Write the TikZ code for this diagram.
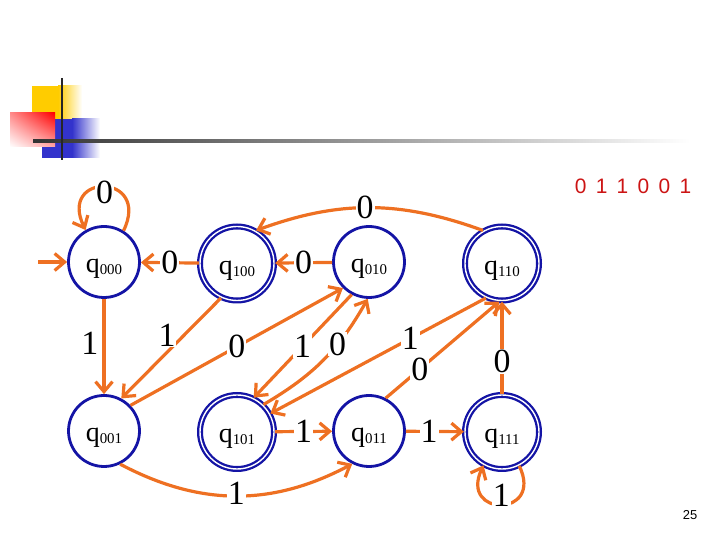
\documentclass[tikz,border=0pt]{standalone}
\usepackage{fontspec}
\setmainfont{Liberation Serif}
\setsansfont{Liberation Sans}
\usetikzlibrary{arrows.meta,shadings}
\definecolor{edgeorange}{RGB}{238,112,34}
\definecolor{stateblue}{RGB}{20,20,165}
\definecolor{logoyellow}{RGB}{255,204,0}
\definecolor{logoblue}{RGB}{51,51,204}
\definecolor{seqred}{RGB}{204,20,20}
\newcommand{\qname}[1]{q\raisebox{-2bp}{\fontsize{15}{15}\selectfont #1}}
\tikzset{
  state/.style={circle,draw=stateblue,line width=2.8bp,minimum size=71bp,inner sep=0pt,
    font=\fontsize{28}{28}\selectfont,text height=24bp,text depth=2bp},
  accepting/.style={state,line width=2.3bp,double=white,double distance=1.4bp,minimum size=74bp},
  trans/.style={draw=edgeorange,line width=3.2bp,-{Straight Barb[length=10bp,width=17bp]}},
  lbl/.style={fill=white,inner sep=1bp,font=\fontsize{34}{34}\selectfont}
}

\begin{document}
\begin{tikzpicture}[x=1bp,y=1bp,line join=round]
\useasboundingbox (0,0) rectangle (720,540);
% logo
\fill[logoyellow] (32,454) rectangle (58,415);
\shade[left color=logoyellow,right color=white] (58,415) rectangle (82,454);
\fill[logoblue] (42,421) rectangle (72,382);
\shade[left color=logoblue,right color=white] (72,382) rectangle (100,421);
\shade[upper left=red!45!white,upper right=red,lower left=white,lower right=red!35!white] (10,393) rectangle (55,427);
\shade[left color=black!80,middle color=black!30,right color=white] (33,397.5) rectangle (690,400.5);
\draw[line width=2.5bp,black!85] (62,462) -- (62,380);

\node[font=\sffamily\fontsize{21}{21}\selectfont,text=seqred] (seq) at (633,354) {\spaceskip=9.3bp\relax 0 1 1 0 0 1};
\node[font=\sffamily\fontsize{13}{13}\selectfont] (pagenum) at (690,24.5) {25};

% states
\node[state] (q000) at (104,278) {\qname{000}};
\node[accepting] (q100) at (237,276.5) {\qname{100}};
\node[state] (q010) at (369,278) {\qname{010}};
\node[accepting] (q110) at (502,276.5) {\qname{110}};
\node[state] (q001) at (104,109) {\qname{001}};
\node[accepting] (q101) at (237,108) {\qname{101}};
\node[state] (q011) at (369,109) {\qname{011}};
\node[accepting] (q111) at (502,108) {\qname{111}};
\coordinate (start) at (38,278);

% transitions
\draw[trans] (start) -- (q000);
\draw[trans] (q000.58) .. controls +(28,58) and +(-28,58) .. (q000.120) node[lbl,pos=0.5,yshift=-6bp]{0};
\draw[trans] (q100) -- node[lbl]{0} (q000);
\draw[trans] (q010) -- node[lbl]{0} (q100);
\draw[trans] (q110.120) to[bend right=20] node[lbl,pos=0.52]{0} (q100.60);
\draw[trans] (q000) -- node[lbl,left=3bp,pos=0.47]{1} (q001);
\draw[trans] (q100.245) -- node[lbl,left=6bp,pos=0.37]{1} (q001.62);
\draw[trans] (q001.44) -- node[lbl,pos=0.5]{0} (q010.225);
\draw[trans] (q010.242) -- node[lbl,pos=0.5]{1} (q101.64);
\draw[trans] (q101.46) to[bend right=15] node[lbl,pos=0.65]{0} (q010.268);
\draw[trans] (q110.245) -- node[lbl,pos=0.35]{1} (q101.29);
\draw[trans] (q011.63) -- node[lbl,pos=0.3]{0} (q110.266);
\draw[trans] (q111) -- node[lbl,pos=0.35]{0} (q110);
\draw[trans] (q101) -- node[lbl]{1} (q011);
\draw[trans] (q011) -- node[lbl,pos=0.4]{1} (q111);
\draw[trans] (q001.296) to[bend right=28] node[lbl,yshift=3bp]{1} (q011.243);
\draw[trans] (q111.297) .. controls +(25,-52) and +(-25,-52) .. (q111.241) node[lbl,pos=0.5,yshift=9bp]{1};
\end{tikzpicture}
\end{document}
